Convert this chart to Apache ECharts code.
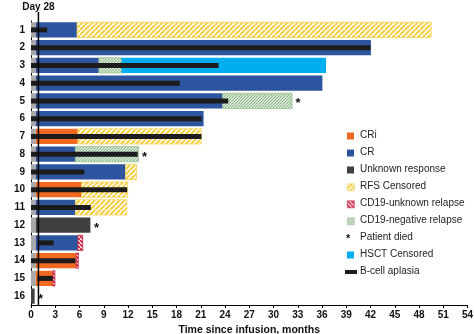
<!DOCTYPE html>
<html><head><meta charset="utf-8">
<script src="https://cdn.jsdelivr.net/npm/echarts@6/dist/echarts.min.js"></script>
<style>html,body{margin:0;padding:0;background:#fff}#c{width:474px;height:334px}</style>
</head><body><div id="c"></div>
<script>
// ---------- data (months since infusion) ----------
const patients = ['1','2','3','4','5','6','7','8','9','10','11','12','13','14','15','16'];
const xMin = 0, xMax = 54, xStep = 3;
const day28 = 0.92;
// per-patient [start, end] segments; null when absent
const initialWindow = [[0,0.6],[0,0.6],[0,0.6],[0,0.6],[0,0.6],[0,0.6],[0,0.6],[0,0.6],[0,0.6],[0,0.6],[0,0.6],[0,0.6],[0,0.6],[0,0.6],[0,0.6],null];
const crSegments = [[0.6,5.7],[0.6,42.05],[0.6,8.4],[0.6,36.05],[0.6,23.7],[0.6,21.35],null,[0.6,5.5],[0.6,11.7],null,[0.6,5.5],null,[0.6,5.8],null,null,null];
const criSegments = [null,null,null,null,null,null,[0.6,5.8],null,null,[0.6,6.25],null,null,null,[0.6,5.6],[0.6,2.7],null];
const unknownSegments = [null,null,null,null,null,null,null,null,null,null,null,[0.6,7.35],null,null,null,[0,0.45]];
const rfsCensored = [[5.7,49.5],null,null,null,null,null,[5.8,21.05],null,[11.7,13.05],[6.25,11.95],[5.5,11.85],null,null,null,null,null];
const cd19UnknownRelapse = [null,null,null,null,null,null,null,null,null,null,null,null,[5.8,6.4],[5.6,5.85],[2.7,2.95],null];
const cd19NegativeRelapse = [null,null,[8.4,11.2],null,[23.7,32.3],null,null,[5.5,13.3],null,null,null,null,null,null,null,null];
const hsctCensored = [null,null,[11.2,36.5],null,null,null,null,null,null,null,null,null,null,null,null,null];
const bCellAplasia = [[0,2.0],[0,42.0],[0,23.2],[0,18.4],[0,24.4],[0,21.1],[0,21.1],[0,13.2],[0,6.6],[0,11.9],[0,7.4],null,[0.85,2.8],[0,5.5],[0.8,2.7],null];
const patientDied = [null,null,null,null,32.3,null,null,13.3,null,null,null,7.35,null,null,null,0.45];
const legendLabels = ['CRi','CR','Unknown response','RFS Censored','CD19-unknown relapse','CD19-negative relapse','Patient died','HSCT Censored','B-cell aplasia'];

// ---------- styles ----------
const FONT = 'Liberation Sans, Arial, Helvetica, sans-serif';
function hatch(bg, fg, size, lw, dir) {
  const c = document.createElement('canvas'); c.width = c.height = size;
  const g = c.getContext('2d');
  g.fillStyle = bg; g.fillRect(0, 0, size, size);
  g.strokeStyle = fg; g.lineWidth = lw; g.beginPath();
  if (dir > 0) {
    for (let k = -1; k <= 1; k++) { g.moveTo(k*size, size); g.lineTo(k*size + size, 0); }
  } else {
    for (let k = -1; k <= 1; k++) { g.moveTo(k*size, 0); g.lineTo(k*size + size, size); }
  }
  g.stroke();
  return { image: c, repeat: 'repeat' };
}
const fills = {
  initial: '#A8A8A8',
  cr: '#2D559F',
  cri: '#F26A21',
  unknown: '#404040',
  rfs: hatch('#FFFFFF', '#F7CF45', 5, 2.2, 1),
  cd19u: hatch('#FFFFFF', '#C8183A', 4, 1.6, -1),
  cd19n: hatch('#EEF5EC', '#86B282', 3, 1.1, 1),
  hsct: '#00AEEF',
  bcell: '#1C1C1C'
};
const strokes = { rfs: '#F5D35A', cd19n: '#9CC197', cd19u: '#C8183A' };

function toData(arr) {
  const out = [];
  arr.forEach((s, i) => { if (s) out.push([s[0], s[1], i]); });
  return out;
}
function barSeries(arr, key, hFrac, fixedH, z) {
  return {
    type: 'custom', z: z, clip: false,
    encode: { x: [0, 1], y: 2 },
    data: toData(arr),
    renderItem: function (params, api) {
      const s = api.coord([api.value(0), api.value(2)]);
      const e = api.coord([api.value(1), api.value(2)]);
      const band = api.size([0, 1])[1];
      const h = fixedH || band * hFrac;
      return {
        type: 'rect',
        shape: { x: s[0], y: s[1] - h / 2, width: e[0] - s[0], height: h },
        style: { fill: fills[key], stroke: strokes[key] || null, lineWidth: strokes[key] ? 0.8 : 0 }
      };
    }
  };
}

const series = [
  barSeries(initialWindow, 'initial', 0.86, 0, 2),
  barSeries(crSegments, 'cr', 0.86, 0, 2),
  barSeries(criSegments, 'cri', 0.86, 0, 2),
  barSeries(unknownSegments, 'unknown', 0.86, 0, 2),
  barSeries(rfsCensored, 'rfs', 0.86, 0, 2),
  barSeries(cd19UnknownRelapse, 'cd19u', 0.86, 0, 2),
  barSeries(cd19NegativeRelapse, 'cd19n', 0.86, 0, 2),
  barSeries(hsctCensored, 'hsct', 0.86, 0, 2),
  barSeries(bCellAplasia, 'bcell', 0, 5, 3),
  {
    type: 'custom', z: 4, clip: false,
    encode: { x: 0, y: 1 },
    data: patientDied.map((v, i) => v == null ? null : [v, i]).filter(Boolean),
    renderItem: function (params, api) {
      const p = api.coord([api.value(0), api.value(1)]);
      return { type: 'text', style: { text: '*', x: p[0] + 6, y: p[1] + 3, fill: '#111', font: 'bold 13px ' + FONT, align: 'center', verticalAlign: 'middle' } };
    }
  },
  {
    type: 'custom', z: 5, clip: false,
    encode: { x: 0, y: 1 },
    data: [[day28, 0]],
    renderItem: function (params, api) {
      const top = api.coord([api.value(0), 0]);
      const bot = api.coord([api.value(0), patients.length - 1]);
      const band = api.size([0, 1])[1];
      const y0 = top[1] - band / 2 - 9, y1 = bot[1] + band / 2;
      return { type: 'group', children: [
        { type: 'line', shape: { x1: top[0], y1: y0, x2: top[0], y2: y1 }, style: { stroke: '#000', lineWidth: 1.5 } },
        { type: 'text', style: { text: 'Day 28', x: top[0], y: y0 - 5, fill: '#111', font: 'bold 10px ' + FONT, align: 'center', verticalAlign: 'middle' } }
      ] };
    }
  }
];

// legend as graphic elements
const legendKeys = ['cri', 'cr', 'unknown', 'rfs', 'cd19u', 'cd19n', 'died', 'hsct', 'bcell'];
const graphic = [];
legendLabels.forEach((lab, i) => {
  const cy = 136 + i * 17;
  const k = legendKeys[i];
  if (k === 'died') {
    graphic.push({ type: 'text', left: 346, top: cy - 5, style: { text: '*', fill: '#111', font: 'bold 11px ' + FONT } });
  } else if (k === 'bcell') {
    graphic.push({ type: 'rect', left: 345, top: cy - 2, shape: { width: 12, height: 4 }, style: { fill: fills.bcell } });
  } else {
    graphic.push({ type: 'rect', left: 347, top: cy - 3.5, shape: { width: 7, height: 7 }, style: { fill: fills[k], stroke: strokes[k] || null, lineWidth: strokes[k] ? 0.6 : 0 } });
  }
  graphic.push({ type: 'text', left: 360, top: cy - 6, style: { text: lab, fill: '#222', font: '10px ' + FONT } });
});

const chart = echarts.init(document.getElementById('c'), null, { renderer: 'canvas' });
chart.setOption({
  backgroundColor: '#fff',
  animation: false,
  grid: { left: 31, right: 6.5, top: 21, bottom: 29, containLabel: false, outerBoundsMode: 'none' },
  xAxis: {
    type: 'value', min: xMin, max: xMax, interval: xStep,
    name: 'Time since infusion, months', nameLocation: 'middle', nameGap: 18,
    nameTextStyle: { fontFamily: FONT, fontWeight: 'bold', fontSize: 10.5, color: '#111' },
    axisLine: { show: true, lineStyle: { color: '#000', width: 1 } },
    axisTick: { show: true, length: 3, lineStyle: { color: '#000' } },
    axisLabel: { fontFamily: FONT, fontWeight: 'bold', fontSize: 10, color: '#111', margin: 5, hideOverlap: false },
    splitLine: { show: false }
  },
  yAxis: {
    type: 'category', data: patients, inverse: true,
    name: 'Patients', nameLocation: 'middle', nameGap: 24, nameRotate: 90,
    nameTextStyle: { fontFamily: FONT, fontWeight: 'bold', fontSize: 10.5, color: '#111' },
    axisLine: { show: true, lineStyle: { color: '#000', width: 1 } },
    axisTick: { show: false },
    axisLabel: { fontFamily: FONT, fontWeight: 'bold', fontSize: 10, color: '#111', margin: 6 }
  },
  graphic: graphic,
  series: series
});
</script></body></html>
